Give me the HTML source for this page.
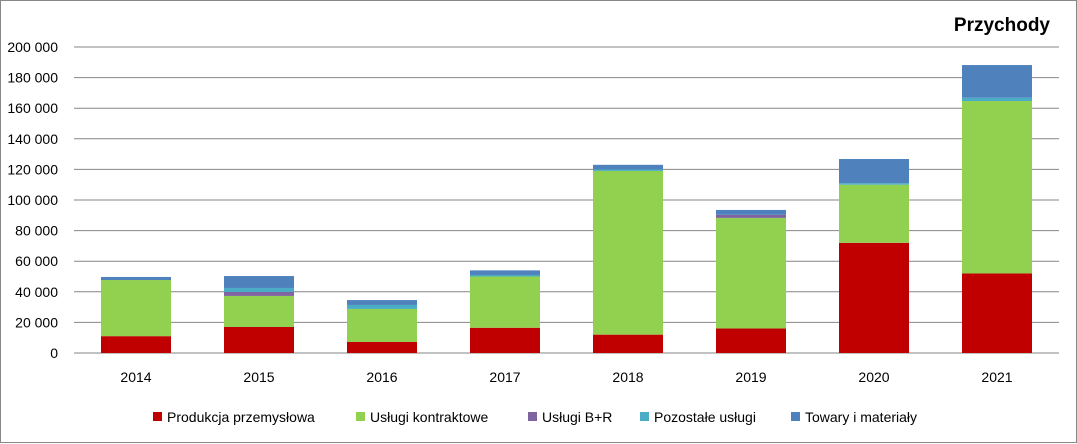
<!DOCTYPE html>
<html><head><meta charset="utf-8"><style>
body{margin:0;background:#fff;font-family:"Liberation Sans",sans-serif}
#c{position:relative;width:1077px;height:443px;box-sizing:border-box;border:1px solid #888}
</style></head><body>
<div id="c">
<svg id="s" width="1077" height="443" style="position:absolute;left:0;top:0"></svg>
</div>
<script>
const categories=["2014","2015","2016","2017","2018","2019","2020","2021"];
const seriesNames=["Produkcja przemysłowa","Usługi kontraktowe","Usługi B+R","Pozostałe usługi","Towary i materiały"];
const colors=["#c00000","#92d050","#8064a2","#4bacc6","#4f81bd"];
const produkcja=[11000,17000,7200,16500,12000,16000,72000,52000];
const kontraktowe=[36700,20300,21600,33500,107000,72300,38000,112700];
const bR=[0,2600,0,0,0,2000,0,0];
const pozostale=[0,2600,2600,1000,1000,0,1000,2200];
const towary=[2000,7800,3200,3000,3000,3200,15800,21300];
const yTicks=[0,20000,40000,60000,80000,100000,120000,140000,160000,180000,200000];
const series=[produkcja,kontraktowe,bR,pozostale,towary];
const NS="http://www.w3.org/2000/svg";
const svg=document.getElementById('s');
const x0=73.5,band=123,barW=70,yBase=352,yTop=46,yMax=200000;
const y=v=>yBase-(v/yMax)*(yBase-yTop);
const xc=i=>x0+band*(i+0.5);
function mk(t,a,txt){const e=document.createElementNS(NS,t);for(const k in a)e.setAttribute(k,a[k]);if(txt!=null)e.textContent=txt;svg.appendChild(e);return e;}
yTicks.forEach(t=>{
 const l=mk('line',{x1:73,x2:1058,y1:y(t),y2:y(t),stroke:'#868686','stroke-width':1});
 
 
 const lb=mk('text',{x:57,y:y(t)+5,'text-anchor':'end','font-size':14,fill:'#000'},t===0?'0':(t/1000)+' 000');
 
 
});
categories.forEach((c,i)=>{
 let acc=0;
 series.forEach((s,k)=>{
  const v=s[i];if(!v){return;}
  const r=mk('rect',{x:xc(i)-barW/2,y:y(acc+v),width:barW,height:y(acc)-y(acc+v),fill:colors[k]});
  
  
  acc+=v;
 });
 const t=mk('text',{x:xc(i),y:381,'text-anchor':'middle','font-size':14,fill:'#000'},c);
 
 
});
const title=mk('text',{x:1049,y:30,'text-anchor':'end','font-size':19,'font-weight':'bold',fill:'#000'},'Przychody');


const legX=[152,355,527,639,790];
seriesNames.forEach((n,k)=>{
 const r=mk('rect',{x:legX[k],y:411,width:9,height:9,fill:colors[k]});
 
 
 const t=mk('text',{x:legX[k]+14,y:421,'font-size':14,fill:'#000'},n);
 
 
});
</script>
</body></html>
